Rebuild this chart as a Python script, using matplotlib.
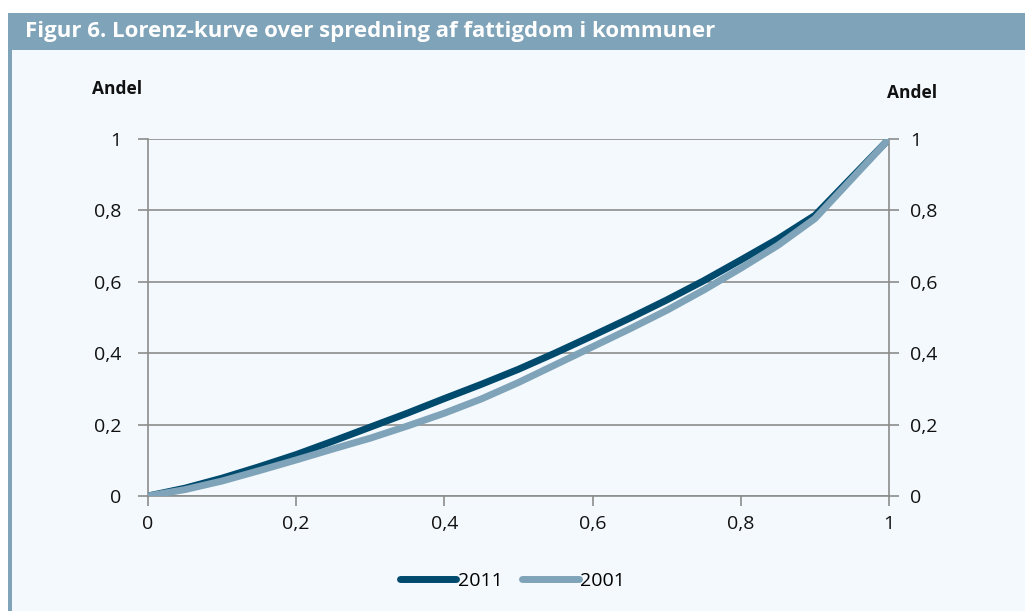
import matplotlib
matplotlib.use("Agg")
import matplotlib.pyplot as plt
from matplotlib.patches import Rectangle

# Data
x_share = [0, 0.05, 0.1, 0.15, 0.2, 0.25, 0.3, 0.35, 0.4, 0.45, 0.5, 0.55, 0.6, 0.65, 0.7, 0.75, 0.8, 0.85, 0.9, 1.0]
y_2011 = [0, 0.022, 0.05, 0.082, 0.116, 0.154, 0.193, 0.232, 0.273, 0.313, 0.355, 0.401, 0.449, 0.498, 0.549, 0.603, 0.661, 0.72, 0.786, 1.0]
y_2001 = [0, 0.018, 0.042, 0.071, 0.101, 0.132, 0.162, 0.196, 0.232, 0.272, 0.318, 0.368, 0.418, 0.468, 0.52, 0.577, 0.638, 0.702, 0.777, 1.0]
ticks = [0, 0.2, 0.4, 0.6, 0.8, 1]
tick_labels = ["0", "0,2", "0,4", "0,6", "0,8", "1"]
title = "Figur 6. Lorenz-kurve over spredning af fattigdom i kommuner"

W, H = 1025, 611
BG = "#F4F9FD"
BAR = "#7FA3B8"
DARK = "#004A6E"
LIGHT = "#7FA3B8"
GRID = "#8C8C8C"

plt.rcParams['font.family'] = ['Open Sans', 'DejaVu Sans']

fig = plt.figure(figsize=(W / 100, H / 100), dpi=100)
fig.patch.set_facecolor("white")

# background panel
fig.patches.append(Rectangle((8 / W, 0), 1 - 8 / W, 1 - 13 / H, transform=fig.transFigure,
                             facecolor=BG, edgecolor="none", zorder=-2))
# title bar
fig.patches.append(Rectangle((8 / W, 1 - 50 / H), 1 - 8 / W, 37 / H, transform=fig.transFigure,
                             facecolor=BAR, edgecolor="none", zorder=-1))
# left border
fig.patches.append(Rectangle((8 / W, 0), 4 / W, 1 - 13 / H, transform=fig.transFigure,
                             facecolor=BAR, edgecolor="none", zorder=-1))
fig.text(25 / W, 1 - 32 / H, title, color="white", fontsize=16, fontweight="bold",
         va="center", ha="left", zorder=2)

ax = fig.add_axes([148 / W, 1 - 496 / H, (889 - 148) / W, (496 - 139) / H])
ax.set_zorder(5)
ax.set_facecolor("none")
ax.plot(x_share, y_2011, color=DARK, lw=5, solid_capstyle="round", solid_joinstyle="round", label="2011", zorder=3)
ax.plot(x_share, y_2001, color=LIGHT, lw=5, solid_capstyle="round", solid_joinstyle="round", label="2001", zorder=4)
ax.set_xlim(0, 1)
ax.set_ylim(0, 1)
ax.set_xticks(ticks)
ax.set_xticklabels(tick_labels)
ax.set_yticks(ticks)
ax.set_yticklabels(tick_labels)
ax.yaxis.grid(True, color=GRID, lw=1.2)
ax.set_axisbelow(True)
for s in ["left", "right", "bottom"]:
    ax.spines[s].set_color(GRID)
    ax.spines[s].set_linewidth(1.2)
ax.spines["top"].set_visible(False)
ax.tick_params(axis="both", colors=GRID, labelcolor="#111111", labelsize=14, length=7, width=1.2, direction="out")
ax.tick_params(axis="y", pad=12)
ax.tick_params(axis="x", pad=7)

ax2 = ax.twinx()
ax2.set_zorder(6)
ax2.set_ylim(0, 1)
ax2.set_yticks(ticks)
ax2.set_yticklabels(tick_labels)
for s in ["left", "right", "bottom", "top"]:
    ax2.spines[s].set_visible(False)
ax2.tick_params(axis="y", colors=GRID, labelcolor="#111111", labelsize=14, length=7, width=1.2, pad=8)

fig.text(92 / W, 1 - 89 / H, "Andel", fontsize=12.5, fontweight="bold", ha="left", va="center", color="#111111")
fig.text(887 / W, 1 - 93 / H, "Andel", fontsize=12.5, fontweight="bold", ha="left", va="center", color="#111111")

leg = fig.legend(loc="center", bbox_to_anchor=(0.5, 1 - 581 / H), ncol=2, frameon=False,
                 fontsize=14, handlelength=2.9, handletextpad=0.1, columnspacing=1.0)
for line in leg.get_lines():
    line.set_linewidth(5)

fig.savefig("out.png", dpi=100, facecolor=fig.get_facecolor())
